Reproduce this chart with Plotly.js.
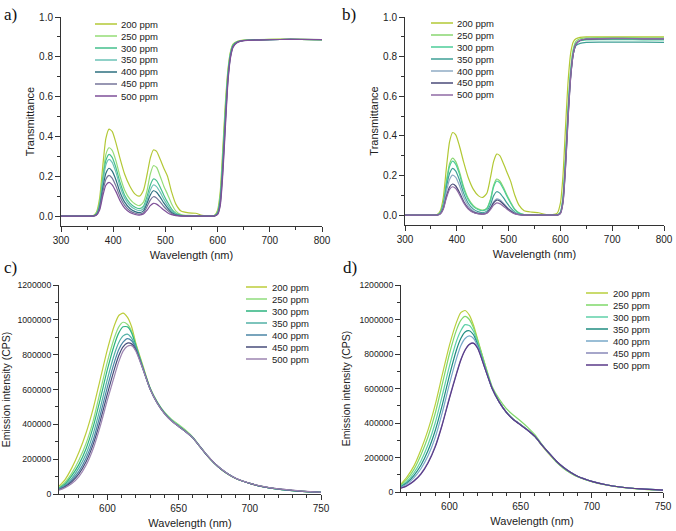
<!DOCTYPE html>
<html>
<head>
<meta charset="utf-8">
<script src="https://cdn.plot.ly/plotly-3.0.1.min.js"></script>
<style>html,body{margin:0;padding:0;background:#fff;}#chart{width:676px;height:531px;}</style>
</head>
<body>
<div id="chart"></div>
<script>
// ---------------- DATA ----------------
const seriesLabels = ["200 ppm","250 ppm","300 ppm","350 ppm","400 ppm","450 ppm","500 ppm"];

// Transmittance spectra (panels a, b)
const wlT = [300,350,362,368,374,380,386,392,398,405,413,422,432,442,450,458,465,471,477,483,490,497,504,512,520,530,545,558,570,585,594,600,605,610,615,620,625,630,638,650,680,720,760,800];

const tA200 = [0,0,0.002,0.02,0.09,0.25,0.39,0.437,0.425,0.37,0.29,0.21,0.15,0.11,0.10,0.13,0.21,0.29,0.332,0.325,0.285,0.24,0.20,0.12,0.06,0.025,0.016,0.014,0.004,0,0.003,0.03,0.12,0.34,0.57,0.74,0.83,0.865,0.878,0.884,0.886,0.889,0.888,0.885];
const tA250 = [0,0,0.001,0.015,0.07,0.2,0.31,0.343,0.33,0.28,0.2,0.13,0.085,0.06,0.052,0.07,0.13,0.21,0.253,0.245,0.2,0.15,0.11,0.06,0.025,0.008,0.003,0.002,0,0,0.002,0.02,0.1,0.31,0.55,0.73,0.825,0.862,0.877,0.883,0.886,0.888,0.888,0.886];
const tA300 = [0,0,0.001,0.012,0.06,0.18,0.28,0.31,0.295,0.245,0.17,0.105,0.065,0.044,0.037,0.05,0.1,0.155,0.186,0.178,0.145,0.105,0.07,0.035,0.014,0.004,0.001,0,0,0,0.002,0.018,0.09,0.29,0.53,0.72,0.82,0.86,0.876,0.883,0.886,0.887,0.888,0.886];
const tA350 = [0,0,0.001,0.01,0.055,0.165,0.258,0.285,0.27,0.222,0.15,0.09,0.053,0.034,0.027,0.038,0.082,0.13,0.156,0.148,0.12,0.085,0.055,0.026,0.01,0.003,0.001,0,0,0,0.001,0.015,0.08,0.27,0.51,0.71,0.815,0.857,0.875,0.882,0.885,0.887,0.887,0.886];
const tA400 = [0,0,0.001,0.008,0.045,0.14,0.215,0.24,0.226,0.184,0.12,0.07,0.038,0.022,0.017,0.026,0.065,0.105,0.127,0.12,0.095,0.066,0.041,0.018,0.006,0.002,0,0,0,0,0.001,0.012,0.07,0.25,0.49,0.7,0.81,0.855,0.874,0.882,0.885,0.887,0.887,0.886];
const tA450 = [0,0,0,0.006,0.038,0.12,0.185,0.204,0.19,0.152,0.097,0.054,0.027,0.014,0.01,0.017,0.048,0.08,0.097,0.091,0.071,0.048,0.029,0.012,0.004,0.001,0,0,0,0,0.001,0.01,0.06,0.23,0.47,0.69,0.805,0.852,0.873,0.881,0.885,0.887,0.887,0.886];
const tA500 = [0,0,0,0.005,0.03,0.1,0.155,0.169,0.157,0.124,0.077,0.04,0.018,0.008,0.005,0.01,0.03,0.052,0.064,0.06,0.046,0.03,0.017,0.007,0.002,0,0,0,0,0,0,0.008,0.05,0.21,0.45,0.68,0.8,0.85,0.872,0.881,0.884,0.887,0.888,0.887];

const tB200 = [0,0,0.003,0.02,0.09,0.24,0.37,0.417,0.405,0.35,0.27,0.19,0.13,0.097,0.089,0.11,0.19,0.27,0.308,0.3,0.26,0.215,0.17,0.1,0.05,0.022,0.015,0.012,0.004,0.002,0.01,0.06,0.2,0.45,0.68,0.82,0.875,0.89,0.897,0.9,0.9,0.9,0.9,0.9];
const tB250 = [0,0,0.001,0.012,0.06,0.17,0.26,0.288,0.27,0.22,0.145,0.085,0.048,0.03,0.025,0.035,0.08,0.15,0.182,0.172,0.14,0.1,0.065,0.03,0.012,0.003,0.001,0,0,0,0.001,0.015,0.09,0.3,0.55,0.74,0.84,0.877,0.89,0.895,0.896,0.896,0.895,0.895];
const tB300 = [0,0,0.001,0.011,0.055,0.16,0.245,0.272,0.256,0.208,0.135,0.078,0.043,0.027,0.022,0.032,0.075,0.142,0.172,0.163,0.132,0.094,0.06,0.027,0.01,0.003,0.001,0,0,0,0.001,0.013,0.085,0.29,0.54,0.73,0.83,0.868,0.88,0.885,0.886,0.886,0.885,0.885];
const tB350 = [0,0,0.001,0.01,0.05,0.14,0.21,0.236,0.222,0.178,0.112,0.06,0.03,0.016,0.012,0.02,0.052,0.097,0.118,0.111,0.088,0.06,0.036,0.015,0.005,0.001,0,0,0,0,0.001,0.012,0.08,0.28,0.52,0.71,0.815,0.855,0.867,0.872,0.873,0.873,0.873,0.872];
const tB400 = [0,0,0,0.008,0.042,0.12,0.18,0.202,0.19,0.15,0.092,0.047,0.021,0.01,0.008,0.014,0.038,0.067,0.082,0.077,0.06,0.04,0.024,0.01,0.003,0.001,0,0,0,0,0,0.01,0.07,0.26,0.51,0.71,0.82,0.865,0.882,0.888,0.89,0.891,0.89,0.89];
const tB450 = [0,0,0,0.006,0.033,0.095,0.142,0.157,0.147,0.115,0.07,0.035,0.015,0.007,0.005,0.011,0.034,0.062,0.076,0.071,0.055,0.036,0.021,0.008,0.002,0,0,0,0,0,0,0.009,0.065,0.25,0.5,0.7,0.815,0.862,0.881,0.888,0.89,0.891,0.89,0.89];
const tB500 = [0,0,0,0.005,0.03,0.087,0.13,0.143,0.134,0.104,0.063,0.031,0.013,0.006,0.004,0.009,0.028,0.05,0.062,0.058,0.045,0.029,0.017,0.006,0.002,0,0,0,0,0,0,0.008,0.06,0.24,0.49,0.7,0.815,0.862,0.882,0.889,0.891,0.892,0.891,0.891];

// Emission spectra (panels c, d)
const wlE = [566,570,575,580,585,590,595,600,605,608,611,614,617,620,625,630,635,640,645,650,655,660,665,670,675,680,685,690,700,710,720,735,750];

const eC200 = [45000,80000,150000,240000,350000,490000,660000,830000,970000,1025000,1038000,1015000,960000,865000,735000,607000,526000,466000,423000,392000,360000,323000,272000,221000,177000,141000,112000,89000,61000,41000,28000,17000,10000];
const eC250 = [38000,65000,120000,195000,290000,420000,590000,760000,900000,960000,986000,975000,935000,858000,728000,610000,530000,471000,430000,399000,366000,327000,274000,222000,177000,141000,112000,89000,61000,41000,28000,17000,10000];
const eC300 = [33000,56000,105000,170000,260000,385000,545000,715000,860000,925000,960000,960000,925000,852000,724000,605000,525000,466000,423000,391000,359000,323000,273000,222000,178000,142000,113000,90000,61000,41000,28000,17000,10000];
const eC350 = [30000,50000,90000,150000,230000,345000,495000,660000,805000,870000,908000,918000,895000,843000,721000,604000,524000,465000,422000,390000,358000,322000,272000,222000,178000,142000,113000,90000,61000,41000,28000,17000,10000];
const eC400 = [27000,44000,80000,130000,205000,310000,455000,615000,760000,830000,872000,892000,880000,836000,719000,603000,523000,464000,421000,389000,357000,322000,272000,222000,178000,142000,113000,90000,61000,41000,28000,17000,10000];
const eC450 = [24000,40000,70000,115000,185000,285000,420000,575000,720000,795000,845000,866000,862000,827000,717000,602000,522000,463000,420000,388000,357000,322000,272000,222000,178000,142000,113000,90000,61000,41000,29000,17000,10000];
const eC500 = [22000,35000,60000,100000,165000,260000,390000,540000,680000,760000,820000,848000,852000,820000,715000,601000,521000,462000,419000,388000,357000,322000,272000,223000,179000,143000,114000,91000,62000,42000,29000,18000,10000];

const eD200 = [45000,85000,150000,245000,360000,505000,680000,850000,985000,1040000,1052000,1025000,965000,880000,738000,603000,522000,463000,421000,391000,359000,322000,269000,219000,175000,139000,110000,88000,60000,41000,28000,17000,11000];
const eD250 = [40000,72000,130000,215000,320000,455000,625000,800000,940000,995000,1018000,1000000,950000,875000,740000,612000,538000,483000,445000,412000,375000,332000,276000,222000,175000,138000,110000,88000,60000,41000,28000,17000,11000];
const eD300 = [35000,60000,110000,180000,275000,400000,560000,730000,875000,935000,970000,965000,930000,860000,726000,602000,523000,463000,421000,391000,359000,322000,272000,224000,179000,142000,113000,90000,61000,42000,29000,18000,11000];
const eD350 = [30000,52000,95000,155000,240000,355000,505000,675000,825000,890000,928000,935000,910000,850000,722000,601000,522000,462000,420000,390000,358000,322000,272000,225000,180000,143000,114000,91000,62000,42000,29000,18000,11000];
const eD400 = [27000,46000,82000,135000,210000,315000,460000,625000,775000,848000,890000,905000,890000,842000,719000,600000,521000,462000,420000,390000,358000,322000,272000,225000,180000,143000,114000,91000,62000,42000,29000,18000,11000];
const eD450 = [23000,37000,65000,107000,172000,265000,395000,548000,690000,768000,825000,857000,863000,832000,716000,600000,521000,461000,420000,389000,358000,322000,272000,225000,180000,143000,114000,91000,62000,42000,29000,18000,11000];
const eD500 = [22000,35000,62000,103000,168000,260000,390000,542000,685000,764000,822000,855000,862000,830000,715000,600000,521000,461000,419000,389000,358000,322000,272000,225000,180000,143000,114000,91000,62000,42000,29000,18000,11000];

// Colours
const colorsA = ["#b3c836","#95dc76","#45bf8c","#6bc2b6","#2d6f7f","#76759a","#7e4f98"];
const colorsB = ["#b2c834","#88d670","#4ccd98","#3e9f96","#8fabc4","#4a4a78","#8f6aa4"];
const colorsC = ["#bccc3a","#8fdc7c","#2db37f","#52b0a6","#4b86a6","#474c7a","#9c84b0"];
const colorsD = ["#b9cf3c","#7fd86a","#5fd0a8","#1f8c80","#78a8c8","#8888b8","#5a3a88"];

// ---------------- BUILD ----------------
const W = 676, H = 531;
const px = v => v / W;
const py = v => 1 - v / H;
const FONT = 'Arial, "Liberation Sans", sans-serif';

const panels = [
  {n:"", x:wlT, ys:[tA200,tA250,tA300,tA350,tA400,tA450,tA500], colors:colorsA,
   leg:{l0:95,l1:117,t:119,y:24}, lab:"a)", labPos:[2,14]},
  {n:"2", x:wlT, ys:[tB200,tB250,tB300,tB350,tB400,tB450,tB500], colors:colorsB,
   leg:{l0:431,l1:453,t:455,y:23}, lab:"b)", labPos:[340,14]},
  {n:"3", x:wlE, ys:[eC200,eC250,eC300,eC350,eC400,eC450,eC500], colors:colorsC,
   leg:{l0:246,l1:267,t:270,y:287}, lab:"c)", labPos:[2,267]},
  {n:"4", x:wlE, ys:[eD200,eD250,eD300,eD350,eD400,eD450,eD500], colors:colorsD,
   leg:{l0:586,l1:608,t:611,y:293}, lab:"d)", labPos:[341,267]}
];

const traces = [];
const shapes = [];
const annotations = [];
panels.forEach(p => {
  p.ys.forEach((y, i) => {
    traces.push({
      x: p.x, y: y, type: "scatter", mode: "lines", name: seriesLabels[i],
      xaxis: "x" + p.n, yaxis: "y" + p.n, showlegend: false, hoverinfo: "skip",
      line: {color: p.colors[i], width: 1.2, shape: "spline", smoothing: 0.6}
    });
    const yy = p.leg.y + 12 * i;
    shapes.push({type:"line", xref:"paper", yref:"paper",
      x0: px(p.leg.l0), x1: px(p.leg.l1), y0: py(yy), y1: py(yy),
      line:{color: p.colors[i], width: 1.5}});
    annotations.push({xref:"paper", yref:"paper", x: px(p.leg.t), y: py(yy),
      xanchor:"left", yanchor:"middle", showarrow:false, text: seriesLabels[i],
      font:{family: FONT, size: 9.5, color:"#222"}});
  });
  annotations.push({xref:"paper", yref:"paper", x: px(p.labPos[0]), y: py(p.labPos[1]),
    xanchor:"left", yanchor:"middle", showarrow:false, text: p.lab,
    font:{family: '"Liberation Serif", "Times New Roman", serif', size: 17, color:"#111"}});
});

function xAx(domain, range, dtick, tick0, minorDtick, anchor) {
  return {domain: domain, range: range, dtick: dtick, tick0: tick0, anchor: anchor,
    showgrid:false, zeroline:false, showline:true, linecolor:"#333", linewidth:1,
    ticks:"outside", ticklen:5, tickcolor:"#333", tickwidth:1,
    tickfont:{family: FONT, size: 10, color:"#222"},
    minor:{dtick: minorDtick, ticks:"outside", ticklen:3, tickcolor:"#333", showgrid:false},
    title:{text:"Wavelength (nm)", font:{family: FONT, size: 11, color:"#222"}, standoff: 6}};
}
function yAx(domain, range, dtick, minorDtick, fmt, title, anchor, fs, tfs, standoff) {
  return {domain: domain, range: range, dtick: dtick, tick0: 0, anchor: anchor, tickformat: fmt,
    showgrid:false, zeroline:false, showline:true, linecolor:"#333", linewidth:1,
    ticks:"outside", ticklen:5, tickcolor:"#333", tickwidth:1,
    tickfont:{family: FONT, size: fs, color:"#222"},
    minor:{dtick: minorDtick, ticks:"outside", ticklen:3, tickcolor:"#333", showgrid:false},
    title:{text:title, font:{family: FONT, size: tfs, color:"#222"}, standoff: standoff}};
}

const layout = {
  width: W, height: H, margin:{l:0,r:0,t:0,b:0},
  paper_bgcolor:"#fff", plot_bgcolor:"#fff", showlegend:false,
  xaxis:  xAx([px(61), px(322)], [300, 800], 100, 300, 50, "y"),
  yaxis:  yAx([py(226), py(17)], [-0.05, 1.0], 0.2, 0.1, ".1f", "Transmittance", "x", 10, 11, 2),
  xaxis2: xAx([px(405), px(664)], [300, 800], 100, 300, 50, "y2"),
  yaxis2: yAx([py(225), py(17)], [-0.05, 1.0], 0.2, 0.1, ".1f", "Transmittance", "x2", 10, 11, 2),
  xaxis3: xAx([px(59), px(321)], [566, 750], 50, 600, 10, "y3"),
  yaxis3: yAx([py(494), py(285)], [0, 1200000], 200000, 100000, "d", "Emission intensity (CPS)", "x3", 8.7, 10.5, 6),
  xaxis4: xAx([px(401), px(663)], [566, 750], 50, 600, 10, "y4"),
  yaxis4: yAx([py(492), py(285)], [0, 1200000], 200000, 100000, "d", "Emission intensity (CPS)", "x4", 8.7, 10.5, 6),
  shapes: shapes, annotations: annotations
};

Plotly.newPlot("chart", traces, layout, {staticPlot:true, displayModeBar:false});
</script>
</body>
</html>
